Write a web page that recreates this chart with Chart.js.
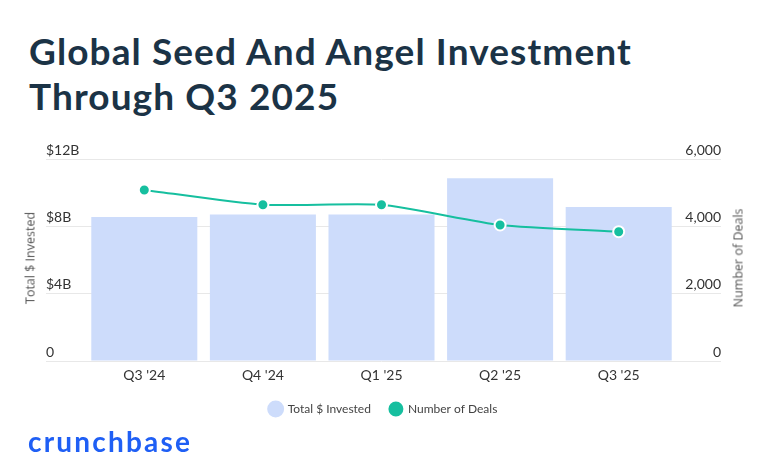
<!DOCTYPE html>
<html>
<head>
<meta charset="utf-8">
<script src="https://cdn.jsdelivr.net/npm/chart.js@4/dist/chart.umd.min.js"></script>
<style>
body { margin: 0; background: #fff; width: 772px; height: 476px; overflow: hidden; position: relative; font-family: Lato, sans-serif; }
#chart { position: absolute; left: 0; top: 0; }
#title { position: absolute; left: 29px; top: 28px; font-size: 37px; line-height: 45px; font-weight: 700; letter-spacing: 1.1px; color: #1b3346; }
.ytitle { position: absolute; font-family: 'Open Sans', sans-serif; font-size: 12.5px; font-weight: 400; color: #555; white-space: nowrap; transform: translate(-50%, -50%) rotate(-90deg); }
#ytl { left: 30px; top: 258px; }
#ytr { left: 738px; top: 258px; }
#logo { position: absolute; left: 28px; top: 424px; font-size: 28px; font-weight: 700; color: #1f5ff5; letter-spacing: 2.2px; }
</style>
</head>
<body>
<div id="title">Global Seed And Angel Investment<br>Through Q3 2025</div>
<canvas id="chart" width="772" height="476"></canvas>
<div class="ytitle" id="ytl">Total $ Invested</div>
<div class="ytitle" id="ytr">Number of Deals</div>
<div id="logo">crunchbase</div>
<script>
// 季度
const quarters = ["Q3 '24", "Q4 '24", "Q1 '25", "Q2 '25", "Q3 '25"];
// 投資總額（十億美元）
const investedB = [8.55, 8.7, 8.7, 10.85, 9.15];
// 交易數
const dealCounts = [5080, 4640, 4640, 4040, 3840];
// 刻度
const investTicks = [0, 4, 8, 12];
const dealTicks = [0, 2000, 4000, 6000];

const barColor = '#cddcfb';
const lineColor = '#16bf9f';
const tickFont = { family: 'Lato', size: 14 };

const ctx = document.getElementById('chart').getContext('2d');
new Chart(ctx, {
  type: 'bar',
  data: {
    labels: quarters,
    datasets: [
      {
        label: 'Total $ Invested',
        data: investedB,
        backgroundColor: barColor,
        barPercentage: 0.894,
        categoryPercentage: 1.0,
        yAxisID: 'y',
        order: 1
      },
      {
        type: 'line',
        label: 'Number of Deals',
        data: dealCounts,
        borderColor: lineColor,
        backgroundColor: lineColor,
        borderWidth: 2,
        pointRadius: 5.5,
        pointBorderColor: '#fff',
        pointBorderWidth: 2,
        pointBackgroundColor: lineColor,
        tension: 0.2,
        yAxisID: 'y1',
        order: 0
      }
    ]
  },
  options: {
    responsive: false,
    animation: false,
    layout: { padding: { left: 46, right: 51, top: 159, bottom: 51 } },
    plugins: {
      tooltip: { enabled: false },
      legend: {
        position: 'bottom',
        labels: {
          usePointStyle: true,
          pointStyle: 'circle',
          boxWidth: 12,
          boxHeight: 12,
          padding: 19,
          color: '#444',
          font: { family: 'Lato', size: 12 },
          sort: (a, b) => a.datasetIndex - b.datasetIndex
        }
      }
    },
    scales: {
      x: {
        grid: { display: false, drawTicks: false },
        border: { display: false },
        ticks: { color: '#333', font: tickFont, padding: 6 },
        afterFit: (s) => { s.height = 23; }
      },
      y: {
        position: 'left',
        min: 0,
        max: 12,
        afterBuildTicks: (s) => { s.ticks = investTicks.map(v => ({ value: v })); },
        grid: { color: '#e8e8e8', lineWidth: 1, tickLength: 39 },
        border: { display: false },
        ticks: {
          crossAlign: 'far',
          labelOffset: -9,
          color: '#333',
          font: tickFont,
          callback: (v) => v === 0 ? '0' : '$' + v + 'B'
        },
        afterFit: (s) => { s.width = 39; }
      },
      y1: {
        position: 'right',
        min: 0,
        max: 6000,
        afterBuildTicks: (s) => { s.ticks = dealTicks.map(v => ({ value: v })); },
        grid: { drawOnChartArea: false, color: '#e8e8e8', tickLength: 43 },
        border: { display: false },
        ticks: {
          crossAlign: 'far',
          labelOffset: -9,
          color: '#333',
          font: tickFont,
          callback: (v) => v.toLocaleString('en-US')
        },
        afterFit: (s) => { s.width = 43; }
      }
    }
  }
});
</script>
</body>
</html>
